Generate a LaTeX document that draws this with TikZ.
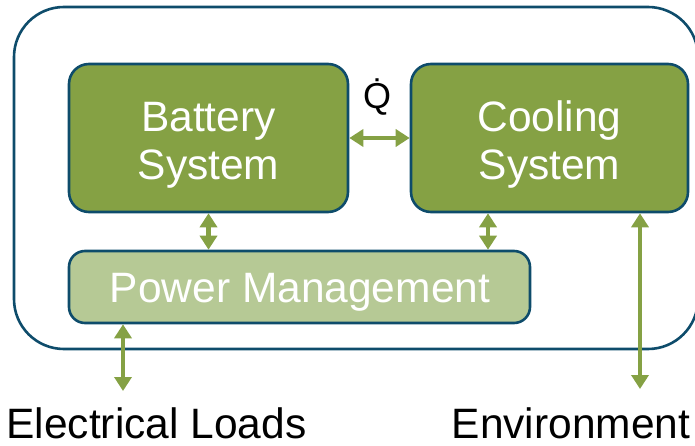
\documentclass[tikz,border=0pt]{standalone}
\usepackage{fontspec}
\setmainfont{Liberation Sans}
\usetikzlibrary{arrows.meta}
\definecolor{edgeblue}{HTML}{0E4C6B}
\definecolor{darkolive}{HTML}{85A144}
\definecolor{lightolive}{HTML}{B6C995}
\tikzset{
  block/.style={draw=edgeblue, line width=2.6pt, rounded corners=20pt, fill=darkolive,
    inner sep=0pt},
  lowblock/.style={block, fill=lightolive, rounded corners=16pt},
  blocktext/.style={text=white, align=center, inner sep=0pt,
    font=\fontsize{42.5}{48}\selectfont},
  link/.style={draw=darkolive, line width=4.5pt,
    {Triangle[width=17pt,length=14pt]}-{Triangle[width=17pt,length=14pt]}},
  caption/.style={font=\fontsize{42.5}{48}\selectfont, text=black, inner sep=0pt}
}
\begin{document}
\begin{tikzpicture}[x=1pt, y=-1pt]
  \useasboundingbox (0,0) rectangle (695,446);
  % enclosing system boundary
  \draw[edgeblue, line width=2.6pt, rounded corners=50pt] (14,7) rectangle (698,349);
  % main blocks
  \node[block, minimum width=279pt, minimum height=148pt] (bat) at (208.5,138) {};
  \node[block, minimum width=277pt, minimum height=148pt] (cool) at (549.5,138) {};
  \node[lowblock, minimum width=461pt, minimum height=72pt] (pm) at (299.5,287) {};
  % block captions
  \node[blocktext] (battxt) at (208.5,145) {Battery\\System};
  \node[blocktext] (cooltxt) at (549.5,145) {Cooling\\System};
  \node[blocktext] (pmtxt) at (300,292) {Power Management};
  % outside labels
  \node[caption] (loads) at (156.5,423) {Electrical Loads};
  \node[caption] (env) at (571,423) {Environment};
  % heat flow symbol
  \node[font=\fontsize{36}{40}\selectfont, inner sep=0pt] (heat) at (377,97) {\.{Q}};
  % helper coordinates for connector columns
  \coordinate (cpm) at (488,0);
  \coordinate (cload) at (123,0);
  \coordinate (cenv) at (640,0);
  \coordinate (loadend) at (123,391);
  \coordinate (envend) at (640,389);
  % connectors
  \draw[link] (bat.east) -- (cool.west);
  \draw[link] (bat.south) -- (bat.south |- pm.north);
  \draw[link] (cool.south -| cpm) -- (pm.north -| cpm);
  \draw[link] (pm.south -| cload) -- (loadend);
  \draw[link] (cool.south -| cenv) -- (envend);
\end{tikzpicture}
\end{document}
